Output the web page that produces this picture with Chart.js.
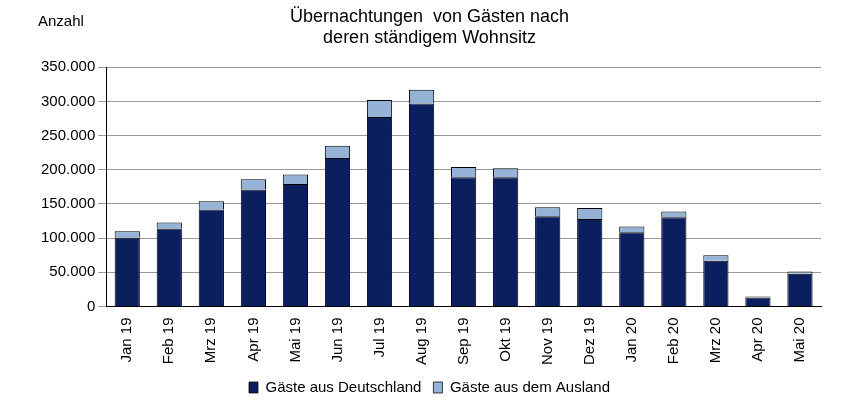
<!DOCTYPE html>
<html><head><meta charset="utf-8">
<script src="https://cdn.jsdelivr.net/npm/chart.js@4"></script>
<style>html,body{margin:0;background:#fff}#w{width:851px;height:405px;position:relative}
#ax{position:absolute;left:38px;top:12px;font:15px "Liberation Sans",Arial,sans-serif}</style>
</head><body><div id="w"><canvas id="c"></canvas><div id="ax">Anzahl</div></div>
<script>
const labels = ['Jan 19','Feb 19','Mrz 19','Apr 19','Mai 19','Jun 19','Jul 19','Aug 19','Sep 19','Okt 19','Nov 19','Dez 19','Jan 20','Feb 20','Mrz 20','Apr 20','Mai 20'];
const inland = [101000,114000,142000,171000,179000,217000,277000,297000,189000,189000,132000,128000,108500,130500,67000,13000,48000];
const total = [110000,123000,154000,186000,193000,235000,302000,317000,204000,202000,145000,144000,117000,139000,75000,14500,51000];
const ausland = total.map((t,i)=>t-inland[i]);
const F = '"Liberation Sans",Arial,sans-serif';
new Chart(document.getElementById('c'),{
  type:'bar',
  data:{labels,datasets:[
    {label:'Gäste aus Deutschland',data:inland,backgroundColor:'#0b1f5e',borderColor:'#000',borderWidth:{top:1,left:1,right:1,bottom:0},barPercentage:0.6,categoryPercentage:1},
    {label:'Gäste aus dem Ausland',data:ausland,backgroundColor:'#95b3d7',borderColor:'#000',borderWidth:{top:1,left:1,right:1,bottom:0},barPercentage:0.6,categoryPercentage:1}
  ]},
  options:{responsive:true,maintainAspectRatio:false,animation:false,
    layout:{padding:{left:38,right:30,top:4,bottom:0}},
    scales:{
      x:{stacked:true,grid:{display:false},border:{color:'#000'},ticks:{color:'#000',font:{family:F,size:15},maxRotation:90,minRotation:90}},
      y:{stacked:true,min:0,max:350000,ticks:{stepSize:50000,color:'#000',font:{family:F,size:15},callback:v=>v.toLocaleString('de-DE')},grid:{color:'#999'},border:{color:'#000'}}
    },
    plugins:{
      title:{display:true,text:['Übernachtungen  von Gästen nach','deren ständigem Wohnsitz'],color:'#000',font:{family:F,size:18,weight:'normal'},padding:{top:2,bottom:18}},
      legend:{position:'bottom',labels:{color:'#000',font:{family:F,size:15},boxWidth:9,boxHeight:11,padding:12}}
    }
  }
});
</script></body></html>
